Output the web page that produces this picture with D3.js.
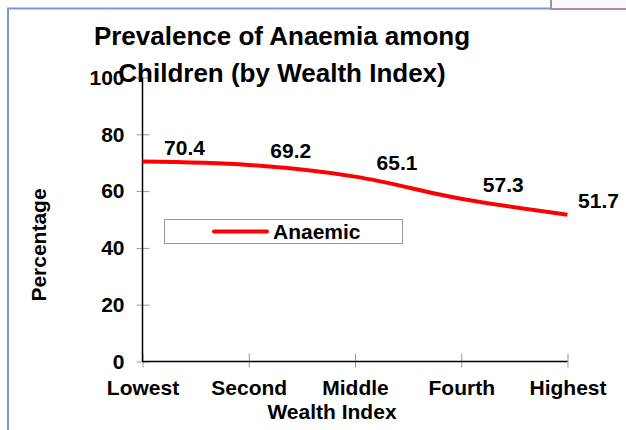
<!DOCTYPE html>
<html>
<head>
<meta charset="utf-8">
<script src="https://cdn.jsdelivr.net/npm/d3@7"></script>
<style>
  body { margin: 0; background: white; }
  svg { display: block; font-family: "Liberation Sans", Arial, sans-serif; }
</style>
</head>
<body>
<div id="chart"></div>
<script>
var categories = ['Lowest', 'Second', 'Middle', 'Fourth', 'Highest'];
var anaemic = [70.4, 69.2, 65.1, 57.3, 51.7];
var yTicks = [0, 20, 40, 60, 80, 100];

function main() {
  var width = 626, height = 430;
  var fontSize = 21;
  var svg = d3.select('#chart').append('svg')
    .attr('width', width)
    .attr('height', height);

  // frame bits from the slide
  svg.append('rect')
    .attr('x', 551).attr('y', -2).attr('width', 80).attr('height', 11)
    .attr('fill', '#fbf7fb').attr('stroke', '#a48cae').attr('stroke-width', 2);
  svg.append('path')
    .attr('d', 'M8 431 L8 8.5 L551 8.5')
    .attr('fill', 'none').attr('stroke', '#7b97d9').attr('stroke-width', 2);

  var x = d3.scalePoint()
    .domain(categories)
    .range([142.5, 567.5]);

  var y = d3.scaleLinear()
    .domain([0, 100])
    .range([361.5, 77.5]);

  // y axis
  var yAxis = svg.append('g')
    .attr('transform', 'translate(142.5,0)')
    .call(d3.axisLeft(y).tickValues(yTicks).tickSize(6).tickPadding(12).tickFormat(d3.format('d')));
  yAxis.select('.domain').remove();
  yAxis.selectAll('.tick line').attr('stroke', '#999').attr('x2', 7).attr('x1', -6);
  yAxis.selectAll('.tick text')
    .attr('font-size', fontSize).attr('font-weight', 'bold').attr('fill', '#000')
    .attr('font-family', '"Liberation Sans", Arial, sans-serif');

  // x axis
  var xAxis = svg.append('g')
    .attr('transform', 'translate(0,361.5)')
    .call(d3.axisBottom(x).tickSize(6).tickPadding(13));
  xAxis.select('.domain').remove();
  xAxis.selectAll('.tick line').attr('stroke', '#999').attr('y1', -8).attr('y2', 6);
  xAxis.selectAll('.tick text')
    .attr('font-size', fontSize).attr('font-weight', 'bold').attr('fill', '#000')
    .attr('font-family', '"Liberation Sans", Arial, sans-serif');

  // axis lines
  svg.append('line')
    .attr('x1', 142.5).attr('x2', 142.5).attr('y1', y(100)).attr('y2', y(0))
    .attr('stroke', '#000').attr('stroke-width', 1.5);
  svg.append('line')
    .attr('x1', 142.5).attr('x2', 567.5).attr('y1', y(0)).attr('y2', y(0))
    .attr('stroke', '#000').attr('stroke-width', 1.5);

  // line
  var line = d3.line()
    .x(function(d, i) { return x(categories[i]); })
    .y(function(d) { return y(d); })
    .curve(d3.curveCardinal.tension(0));

  svg.append('path')
    .datum(anaemic)
    .attr('d', line)
    .attr('fill', 'none')
    .attr('stroke', '#ff0000')
    .attr('stroke-width', 4);

  // value labels
  svg.selectAll('.vlabel').data(anaemic)
    .join('text')
    .attr('class', 'vlabel')
    .attr('x', function(d, i) { return x(categories[i]) + (i === 4 ? 31 : 42); })
    .attr('y', function(d) { return y(d) - 7; })
    .attr('text-anchor', 'middle')
    .attr('font-size', fontSize).attr('font-weight', 'bold')
    .text(function(d) { return d.toFixed(1); });

  // legend
  svg.append('rect')
    .attr('x', 164.5).attr('y', 219.5).attr('width', 238).attr('height', 24)
    .attr('fill', 'white').attr('stroke', '#999').attr('stroke-width', 1);
  svg.append('line')
    .attr('x1', 214).attr('x2', 267).attr('y1', 231.5).attr('y2', 231.5)
    .attr('stroke', '#ff0000').attr('stroke-width', 4).attr('stroke-linecap', 'round');
  svg.append('text')
    .attr('x', 273).attr('y', 239)
    .attr('font-size', fontSize).attr('font-weight', 'bold')
    .text('Anaemic');

  // titles
  var title = svg.append('text')
    .attr('text-anchor', 'middle')
    .attr('font-size', 26).attr('font-weight', 'bold');
  title.append('tspan').attr('x', 282).attr('y', 45).text('Prevalence of Anaemia among');
  title.append('tspan').attr('x', 282).attr('y', 82).text('Children (by Wealth Index)');

  svg.append('text')
    .attr('x', 332).attr('y', 419)
    .attr('text-anchor', 'middle')
    .attr('font-size', fontSize).attr('font-weight', 'bold')
    .text('Wealth Index');

  svg.append('text')
    .attr('transform', 'translate(46,245) rotate(-90)')
    .attr('text-anchor', 'middle')
    .attr('font-size', fontSize).attr('font-weight', 'bold')
    .text('Percentage');
}

main();
</script>
</body>
</html>
